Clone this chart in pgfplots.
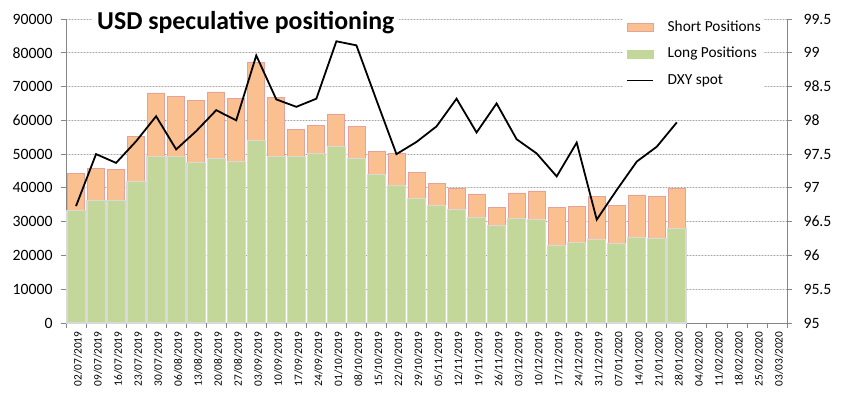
\documentclass[border=0pt]{standalone}
\usepackage{pgfplots}
\usepackage{pgfplotstable}
\pgfplotsset{compat=1.18}
\usepackage{fontspec}
\setmainfont{Carlito}
\definecolor{shortfill}{HTML}{FAC090}
\definecolor{shortdraw}{HTML}{E3A39C}
\definecolor{longfill}{HTML}{C4D79B}
\definecolor{gapgray}{HTML}{D9D9D9}
\definecolor{axgray}{HTML}{868686}
\definecolor{gridgray}{HTML}{DADADA}
\definecolor{dotgray}{HTML}{A6A6A6}
\pgfplotsset{
  barleg/.style={legend image code/.code={\draw[##1] (0bp,-4bp) rectangle (26bp,4bp);}},
  lineleg/.style={legend image code/.code={\draw[##1, line width=1.8bp] (0bp,0bp) -- (26bp,0bp);}},
}
\pgfplotstableread{
x long short dxy
0 33200 11200 96.73
1 36300 9500 97.50
2 36300 9200 97.37
3 41900 13200 97.69
4 49200 18900 98.06
5 49200 18000 97.57
6 47600 18200 97.84
7 48800 19600 98.15
8 47900 18500 98.00
9 54100 23000 98.96
10 49400 17500 98.31
11 49400 8000 98.20
12 50100 8500 98.32
13 52300 9600 99.17
14 48700 9400 99.11
15 44000 6900 98.30
16 40800 9400 97.50
17 36800 7800 97.68
18 34800 6600 97.91
19 33600 6300 98.32
20 31300 6900 97.82
21 28900 5300 98.25
22 30900 7600 97.72
23 30700 8400 97.51
24 22900 11300 97.17
25 23800 10700 97.67
26 24700 12800 96.53
27 23500 11400 96.97
28 25300 12600 97.39
29 25000 12500 97.61
30 28000 11900 97.97
}\data
\begin{document}
\begin{tikzpicture}
\begin{axis}[
  scale only axis, width=721bp, height=304bp,
  at={(0,0)}, anchor=south west,
  xmin=-0.5, xmax=35.5, ymin=0, ymax=90000,
  ybar stacked,
  axis y line*=left, axis x line*=bottom,
  axis line style={draw=axgray, line width=0.8bp},
  tick align=outside,
  major tick length=5bp, minor tick length=5bp,
  tick style={draw=axgray, line width=0.8bp},
  major x tick style={draw=none},
  xtick={0,...,35},
  minor xtick={-0.5,0.5,...,35.5},
  xticklabels={02/07/2019,09/07/2019,16/07/2019,23/07/2019,30/07/2019,06/08/2019,13/08/2019,20/08/2019,27/08/2019,03/09/2019,10/09/2019,17/09/2019,24/09/2019,01/10/2019,08/10/2019,15/10/2019,22/10/2019,29/10/2019,05/11/2019,12/11/2019,19/11/2019,26/11/2019,03/12/2019,10/12/2019,17/12/2019,24/12/2019,31/12/2019,07/01/2020,14/01/2020,21/01/2020,28/01/2020,04/02/2020,11/02/2020,18/02/2020,25/02/2020,03/03/2020},
  xticklabel style={rotate=90, anchor=east, yshift=-2bp, font=\fontsize{11.4}{13}\selectfont},
  ytick={0,10000,...,90000},
  scaled y ticks=false,
  yticklabel style={font=\fontsize{15.8}{18}\selectfont, xshift=-5bp, /pgf/number format/1000 sep={}, /pgf/number format/assume math mode=true},
  ymajorgrids,
  grid style={solid, gridgray, line width=0.8bp},
  major grid style={solid, gridgray, line width=0.8bp,
    postaction={draw=dotgray, line width=0.9bp, dash pattern=on 1.2bp off 1.8bp}},
]
\addplot[fill=longfill, draw=gapgray, line width=1.2bp, bar width=18.2bp] table[x=x,y=long] {\data};
\addplot[fill=shortfill, draw=shortdraw, line width=0.8bp, bar width=17bp] table[x=x,y=short] {\data};
\end{axis}
\begin{axis}[
  scale only axis, width=721bp, height=304bp,
  at={(0,0)}, anchor=south west,
  xmin=-0.5, xmax=35.5, ymin=95, ymax=99.5,
  axis y line*=right, axis x line=none,
  axis line style={draw=axgray, line width=0.8bp},
  tick align=outside, major tick length=5bp,
  tick style={draw=axgray, line width=0.8bp},
  ytick={95,95.5,...,99.5},
  yticklabels={95,95.5,96,96.5,97,97.5,98,98.5,99,99.5},
  yticklabel style={font=\fontsize{15.8}{18}\selectfont, xshift=8bp},
  legend cell align=left,
  legend style={at={(0.7725,1.0066)}, anchor=north west, draw=none, fill=white,
    inner sep=3bp, font=\fontsize{15.4}{18}\selectfont, row sep=12bp, column sep=13.7bp,
    nodes={inner sep=0pt, text height=11bp, text depth=3.5bp}},
]
\addlegendimage{barleg, fill=shortfill, draw=shortdraw, line width=0.8bp}
\addlegendentry{Short Positions}
\addlegendimage{barleg, fill=longfill, draw=longfill, line width=0.4bp}
\addlegendentry{Long Positions}
\addplot[black, line width=1.8bp, mark=none, lineleg] table[x=x,y=dxy] {\data};
\addlegendentry{DXY spot}
\end{axis}
\node[anchor=base west, fill=white, inner xsep=5bp, inner ysep=2bp, font=\bfseries\fontsize{25.9}{30}\selectfont] at (26bp,293.7bp) {USD speculative positioning};
\pgfresetboundingbox
\path[use as bounding box] (-66bp,-76bp) rectangle (777bp,323bp);
\end{tikzpicture}
\end{document}
